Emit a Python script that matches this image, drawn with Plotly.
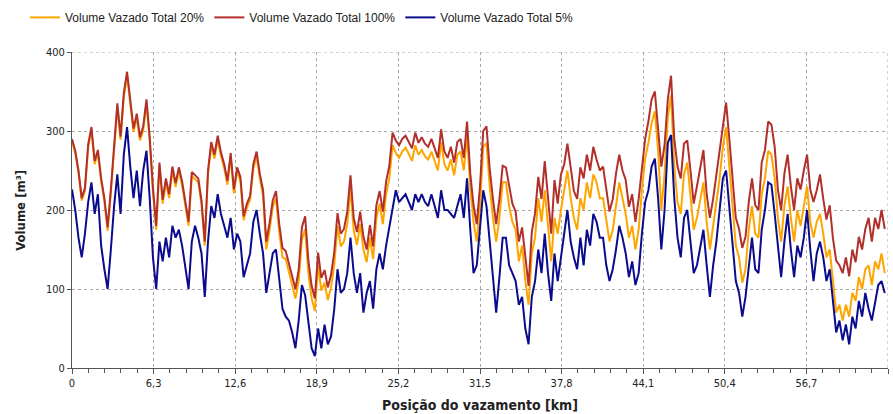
import numpy as np
import plotly.graph_objects as go

# Leak position along the pipeline, sampled every 0.25 km (0 .. 62.75 km)
STEP_KM = 0.25

# Total leaked volume [m³] for each scenario
vol_20 = [
    287, 272, 247, 212, 224, 280, 301, 258, 272, 236,
    211, 174, 222, 276, 330, 289, 343, 370, 330, 299,
    317, 288, 301, 335, 287, 223, 175, 255, 208, 235,
    215, 250, 229, 249, 231, 208, 180, 243, 239, 235,
    207, 155, 245, 281, 265, 289, 268, 253, 232, 267,
    221, 249, 237, 187, 203, 213, 252, 268, 240, 218,
    150, 174, 204, 215, 172, 140, 138, 120, 102, 88,
    110, 162, 176, 120, 88, 72, 130, 98, 108, 86,
    102, 131, 180, 154, 160, 182, 228, 174, 156, 182,
    150, 134, 165, 138, 190, 208, 182, 220, 240, 282,
    272, 266, 274, 279, 271, 262, 282, 270, 276, 268,
    264, 274, 262, 250, 286, 258, 250, 264, 244, 270,
    274, 250, 296, 228, 185, 160, 205, 280, 285, 230,
    190, 160, 190, 235, 235, 205, 185, 175, 135, 155,
    110, 80, 145, 165, 215, 185, 225, 180, 135, 190,
    170, 200, 225, 250, 215, 190, 175, 215, 200, 235,
    215, 245, 235, 215, 215, 185, 160, 175, 205, 235,
    215, 195, 165, 180, 150, 175, 225, 265, 285, 310,
    325, 275, 200, 245, 318, 345, 255, 210, 195, 245,
    260, 215, 175, 190, 215, 235, 185, 150, 180, 210,
    240, 280, 305, 255, 205, 155, 140, 108, 125, 175,
    205, 170, 165, 220, 240, 275, 270, 240, 190, 160,
    205, 230, 190, 160, 200, 180, 205, 230, 185, 165,
    185, 195, 170, 140, 150, 110, 70, 80, 60, 80,
    65, 95, 85, 115, 100, 125, 130, 105, 135, 125,
    145, 120,
]

vol_100 = [
    290, 275, 250, 215, 228, 283, 305, 262, 276, 240,
    215, 178, 226, 280, 335, 293, 348, 375, 335, 303,
    322, 292, 306, 340, 292, 228, 180, 260, 213, 240,
    220, 255, 234, 254, 236, 213, 185, 248, 244, 240,
    212, 160, 250, 286, 270, 294, 273, 258, 237, 272,
    226, 254, 242, 192, 208, 218, 258, 274, 246, 225,
    160, 183, 212, 224, 182, 152, 148, 131, 114, 100,
    124, 178, 192, 136, 104, 88, 146, 114, 124, 102,
    118, 147, 196, 170, 176, 198, 244, 190, 172, 198,
    166, 150, 181, 154, 206, 224, 198, 236, 256, 298,
    288, 282, 290, 294, 286, 278, 298, 285, 292, 284,
    280, 290, 278, 266, 302, 274, 266, 280, 260, 286,
    290, 266, 312, 246, 206, 182, 230, 300, 306, 252,
    214, 182, 214, 256, 254, 232, 208, 198, 160, 178,
    138, 104, 172, 196, 242, 214, 262, 215, 170, 238,
    208, 245, 258, 284, 250, 224, 214, 254, 240, 270,
    250, 280, 264, 250, 255, 228, 198, 214, 246, 270,
    250, 238, 204, 220, 185, 214, 255, 290, 312, 340,
    350, 300, 255, 282, 340, 370, 290, 255, 240, 284,
    288, 250, 208, 230, 256, 276, 220, 190, 214, 246,
    274, 310, 336, 290, 240, 190, 176, 152, 166, 210,
    240, 206, 200, 260, 276, 312, 308, 280, 226, 200,
    246, 270, 230, 200, 240, 226, 250, 270, 226, 210,
    225, 245, 214, 188, 206, 164, 136, 130, 120, 140,
    116, 150, 134, 166, 150, 176, 190, 160, 190, 176,
    200, 176,
]

vol_5 = [
    226, 200, 165, 140, 170, 210, 235, 195, 220, 155,
    125, 100, 150, 205, 245, 195, 270, 305, 255, 215,
    250, 205, 250, 275, 215, 140, 100, 160, 135, 165,
    140, 180, 165, 175, 155, 130, 100, 160, 180, 165,
    145, 90, 160, 205, 190, 220, 195, 180, 165, 190,
    150, 170, 160, 115, 130, 145, 185, 200, 170, 145,
    95, 120, 145, 150, 115, 75, 65, 60, 45, 25,
    60, 105, 92, 55, 25, 15, 50, 25, 55, 30,
    40, 75, 125, 95, 100, 120, 165, 120, 95, 120,
    70, 95, 110, 75, 125, 145, 125, 155, 180, 205,
    225, 210, 215, 220, 210, 200, 220, 210, 220, 210,
    205, 220, 205, 190, 225, 200, 200, 195, 190, 205,
    220, 190, 240, 175, 120, 130, 180, 225, 205, 160,
    115, 70, 115, 165, 165, 130, 120, 110, 80, 90,
    50, 30, 90, 110, 150, 120, 170, 120, 85, 145,
    110, 140, 175, 200, 160, 140, 125, 165, 130, 175,
    155, 195, 185, 165, 165, 130, 110, 125, 150, 180,
    165, 145, 115, 135, 105, 120, 170, 210, 225, 255,
    265, 215, 150, 200, 285, 295, 215, 165, 140, 190,
    200, 155, 120, 130, 155, 175, 130, 90, 130, 160,
    200, 240, 250, 205, 155, 110, 95, 65, 90, 130,
    165, 125, 120, 175, 200, 235, 232, 195, 150, 115,
    160, 195, 150, 115, 155, 140, 165, 200, 150, 110,
    145, 160, 140, 110, 125, 80, 45, 60, 35, 55,
    30, 65, 50, 85, 65, 95, 75, 60, 85, 105,
    110, 95,
]

x_ticks = [0, 6.3, 12.6, 18.9, 25.2, 31.5, 37.8, 44.1, 50.4, 56.7, 63]
x_tick_text = ["0", "6,3", "12,6", "18,9", "25,2", "31,5", "37,8", "44,1", "50,4", "56,7", "63"]
y_ticks = [0, 100, 200, 300, 400]

position_km = np.arange(len(vol_100)) * STEP_KM

series = [
    ("Volume Vazado Total 20%", vol_20, "#FFA500"),
    ("Volume Vazado Total 100%", vol_100, "#B2302B"),
    ("Volume Vazado Total 5%", vol_5, "#0B0B8E"),
]

NARROW = "Liberation Sans Narrow, DejaVu Sans Condensed, Arial Narrow, sans-serif"

fig = go.Figure()
for name, values, color in series:
    fig.add_trace(go.Scatter(
        x=position_km, y=values, name=name, mode="lines",
        line=dict(color=color, width=2),
    ))

grid = dict(showgrid=True, gridcolor="#A8A8A8", gridwidth=1, griddash="dot")

fig.update_layout(
    width=893, height=414,
    margin=dict(l=72, r=5, t=52, b=46),
    paper_bgcolor="white", plot_bgcolor="white",
    showlegend=True,
    legend=dict(
        orientation="h", xref="container", yref="container",
        x=0.028, y=0.993, xanchor="left", yanchor="top",
        font=dict(family="Liberation Sans, Arial, sans-serif", size=12, color="#222"),
        itemwidth=30, tracegroupgap=0,
    ),
    xaxis=dict(
        range=[0, 63], tickvals=x_ticks, ticktext=x_tick_text,
        ticks="outside", ticklen=5, tickcolor="#555",
        showline=True, linecolor="#555", linewidth=1, mirror=False,
        zeroline=False,
        tickfont=dict(family=NARROW, size=11, color="#222"),
        minor=dict(dtick=1.26, tick0=0, ticks="outside", ticklen=4,
                   tickcolor="#555", showgrid=False),
        **grid,
    ),
    yaxis=dict(
        range=[0, 400], tickvals=y_ticks,
        ticks="outside", ticklen=4, tickcolor="#555",
        showline=True, linecolor="#555", linewidth=1,
        zeroline=False,
        tickfont=dict(family=NARROW, size=11, color="#222"),
        **grid,
    ),
    annotations=[
        dict(text="<b>Posição do vazamento [km]</b>", xref="paper", yref="paper",
             x=0.5, y=-0.118, xanchor="center", yanchor="middle", showarrow=False,
             font=dict(family=NARROW, size=14, color="#222")),
        dict(text="<b>Volume [m³]</b>", xref="paper", yref="paper",
             x=-0.064, y=0.5, xanchor="center", yanchor="middle", showarrow=False,
             textangle=-90, font=dict(family=NARROW, size=13, color="#222")),
    ],
)

# dotted frame lines on the top and right edges of the plot area
fig.add_hline(y=400, line=dict(color="#A8A8A8", width=1, dash="dot"))
fig.add_vline(x=63, line=dict(color="#A8A8A8", width=1, dash="dot"))

fig.write_html("out.html")
